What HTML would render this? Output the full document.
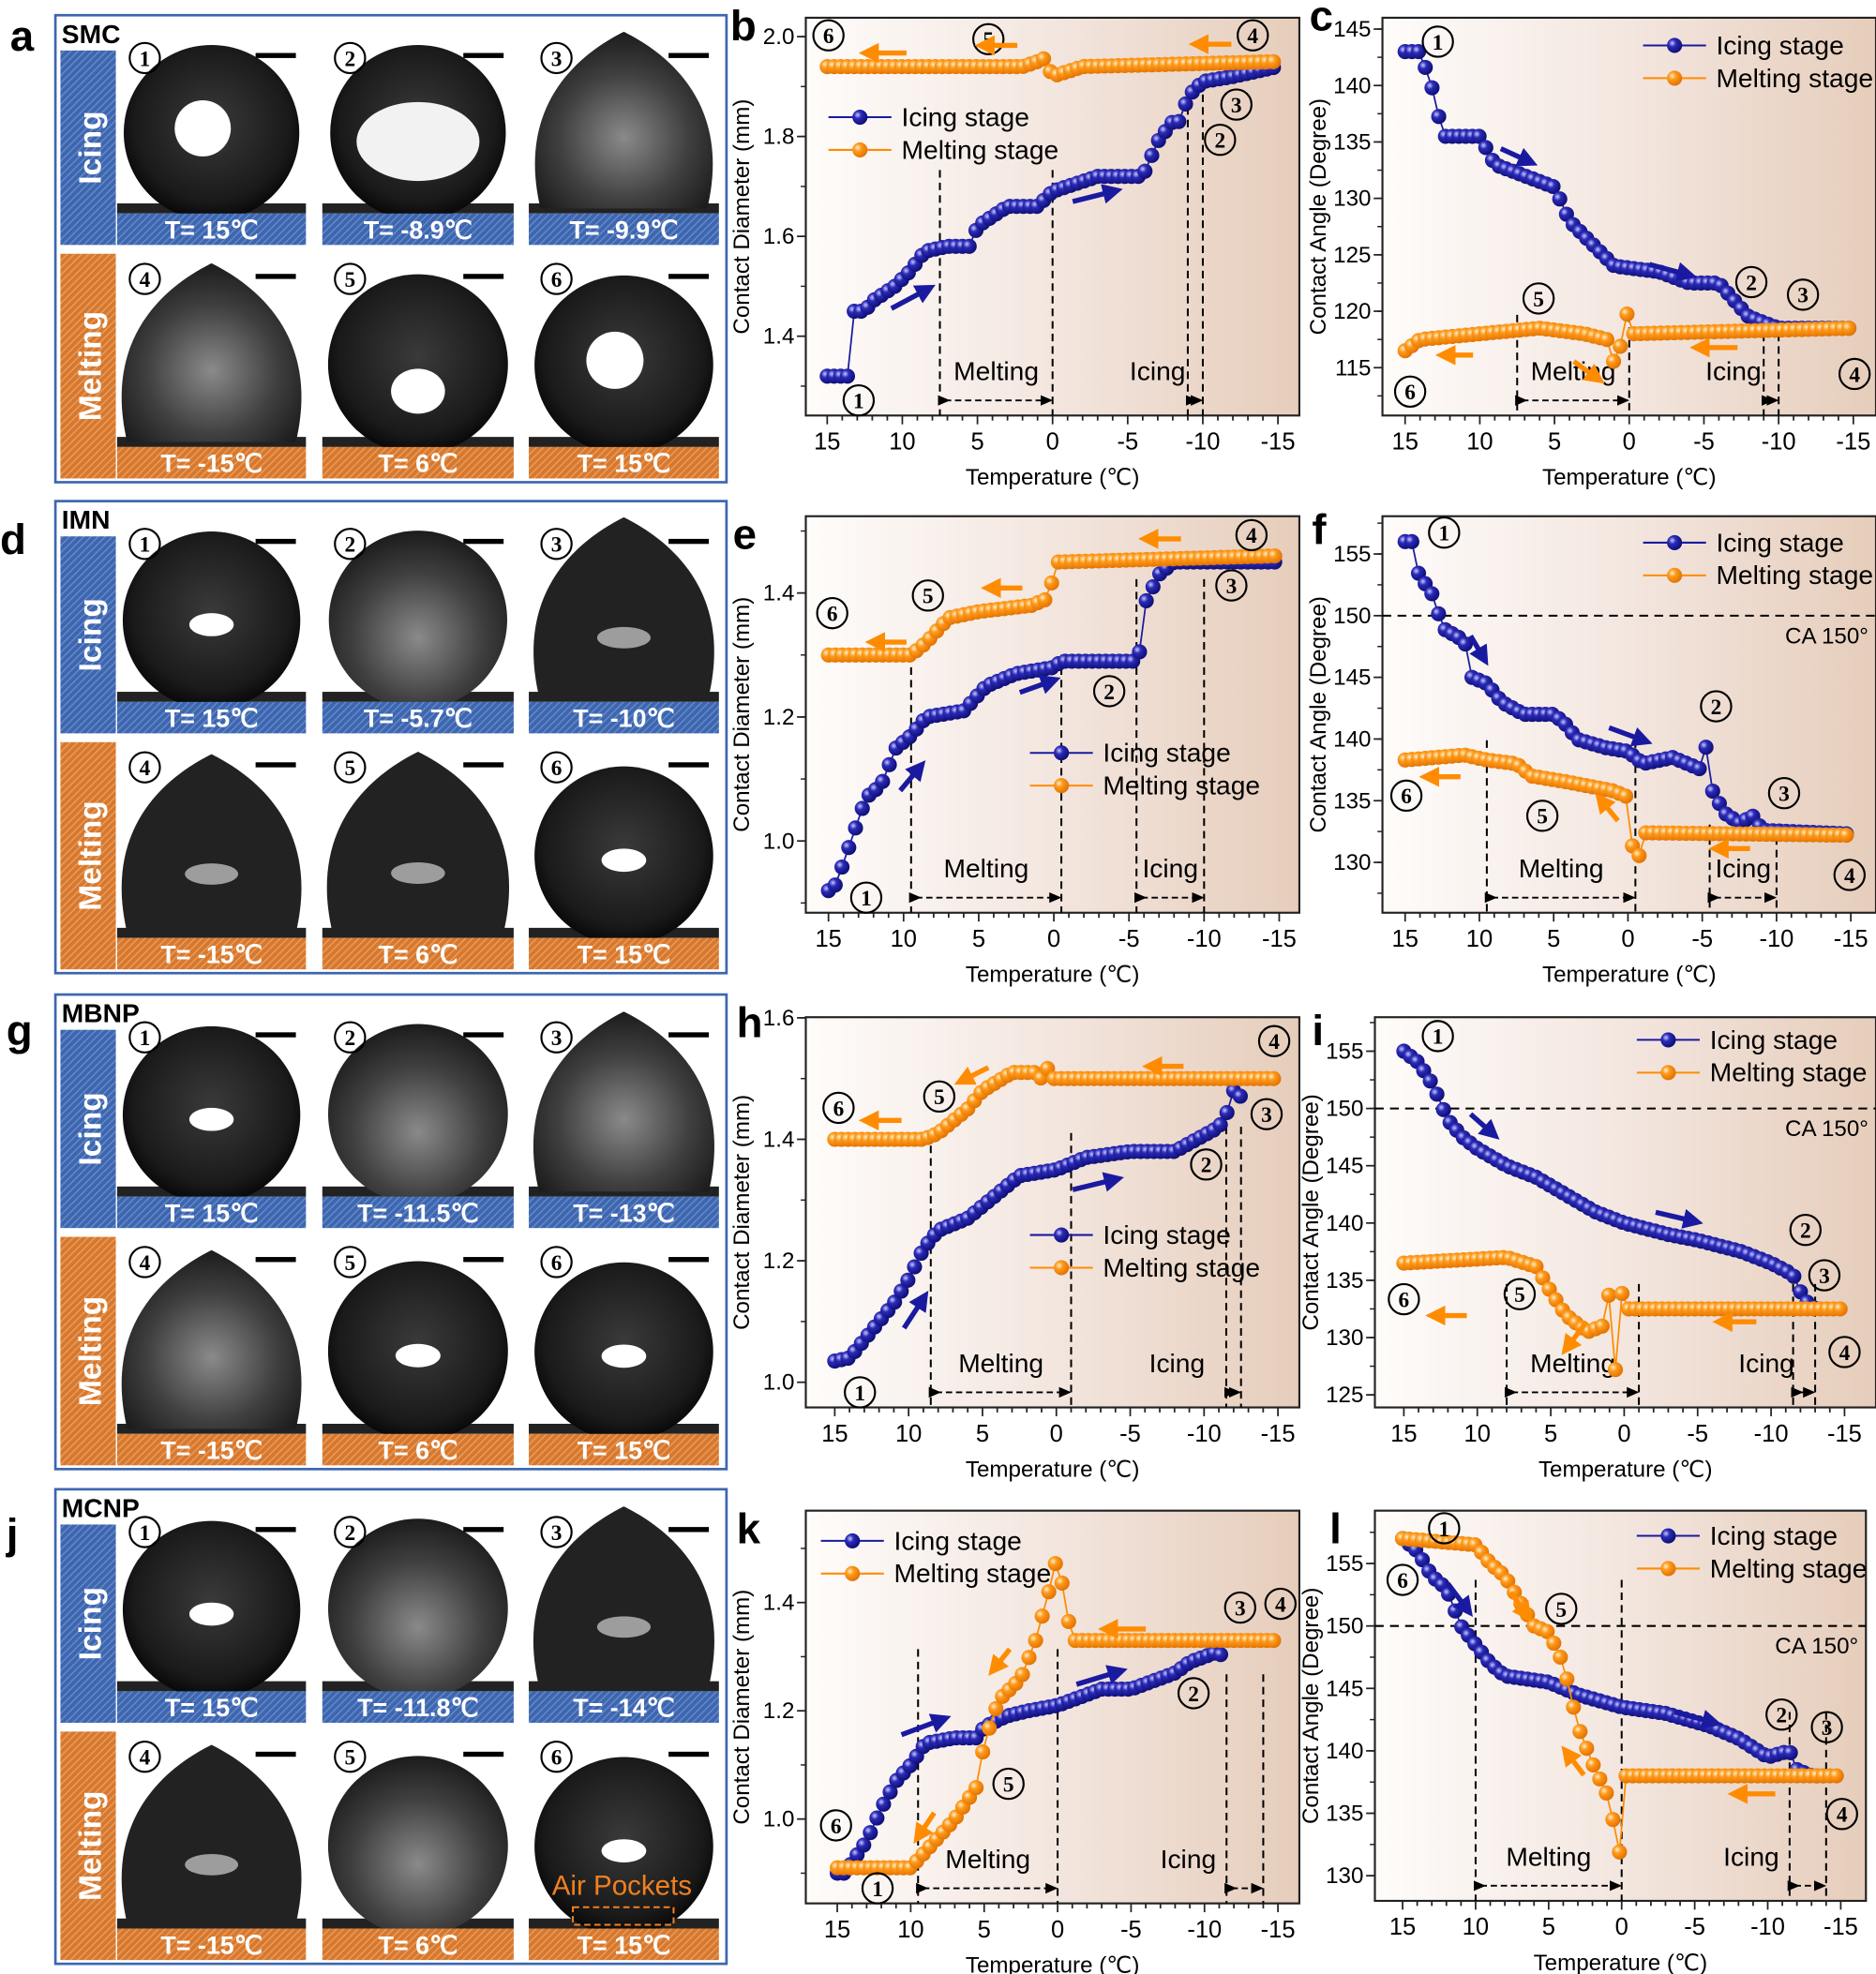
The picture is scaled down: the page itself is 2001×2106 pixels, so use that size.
<!DOCTYPE html>
<html><head><meta charset="utf-8">
<style>
html,body{margin:0;padding:0;background:#fff;}
svg{display:block;font-family:"Liberation Sans",Arial,sans-serif;}
</style></head>
<body>
<svg id="s" width="2001" height="2106" viewBox="0 0 1490 1568" xmlns="http://www.w3.org/2000/svg">
<defs>
<radialGradient id="gb" cx="0.35" cy="0.35" r="0.7"><stop offset="0" stop-color="#c8c8ff"/><stop offset="0.35" stop-color="#2a2ab8"/><stop offset="1" stop-color="#0c0c70"/></radialGradient>
<radialGradient id="go" cx="0.35" cy="0.35" r="0.7"><stop offset="0" stop-color="#fff0d0"/><stop offset="0.35" stop-color="#ff9a1a"/><stop offset="1" stop-color="#e07000"/></radialGradient>
<linearGradient id="bg" x1="0" x2="1" y1="0" y2="0"><stop offset="0" stop-color="#fefcfa"/><stop offset="0.5" stop-color="#f3e6df"/><stop offset="1" stop-color="#e6cdbb"/></linearGradient>
<pattern id="hb" width="4" height="4" patternUnits="userSpaceOnUse" patternTransform="rotate(45)"><rect width="4" height="4" fill="#3d66b0"/><rect width="1" height="4" fill="#6a8cc8"/></pattern>
<pattern id="ho" width="4" height="4" patternUnits="userSpaceOnUse" patternTransform="rotate(45)"><rect width="4" height="4" fill="#d7782e"/><rect width="1" height="4" fill="#e9a060"/></pattern>
<radialGradient id="drop" cx="0.5" cy="0.45" r="0.55"><stop offset="0" stop-color="#3a3a3a"/><stop offset="0.8" stop-color="#1a1a1a"/><stop offset="1" stop-color="#080808"/></radialGradient>
<radialGradient id="dropg" cx="0.5" cy="0.6" r="0.6"><stop offset="0" stop-color="#8a8a8a"/><stop offset="0.6" stop-color="#404040"/><stop offset="1" stop-color="#1c1c1c"/></radialGradient>
<marker id="ab" markerWidth="4" markerHeight="4" refX="2" refY="2" orient="auto"><path d="M0,0L4,2L0,4z" fill="#1a1aa0"/></marker>
<marker id="ao" markerWidth="4" markerHeight="4" refX="2" refY="2" orient="auto"><path d="M0,0L4,2L0,4z" fill="#ff8c00"/></marker>
<marker id="ak" markerWidth="8" markerHeight="8" refX="4" refY="4" orient="auto"><path d="M0,1L7,4L0,7z" fill="#000"/></marker>
</defs>
<g id="root"></g>
</svg>
<script>
var R=document.getElementById('root'),NS='http://www.w3.org/2000/svg';
function el(t,a,txt,p){var e=document.createElementNS(NS,t);for(var k in a)e.setAttribute(k,a[k]);if(txt!=null)e.textContent=txt;(p||R).appendChild(e);return e;}
function cnum(n,x,y,s){s=s||12;el('circle',{cx:x,cy:y,r:s,fill:'none',stroke:'#000','stroke-width':1.6});el('text',{x:x,y:y+s*0.52,'font-size':s*1.45,'font-weight':'bold','text-anchor':'middle','font-family':'Liberation Serif,serif'},String(n));}

function photoBox(y0,y1,name,caps,kind){
  el('rect',{x:44,y:y0,width:533,height:y1-y0,fill:'#fff',stroke:'#3d66b0','stroke-width':2});
  el('text',{x:49,y:y0+22,'font-size':21,'font-weight':'bold'},name);
  var mid=(y0+y1)/2;
  var secs=[[y0+28,mid-3,'hb','Icing'],[mid+4,y1-3,'ho','Melting']];
  var cols=[[93,243],[256,408],[420,571]];
  secs.forEach(function(s,si){
    el('rect',{x:48,y:s[0],width:44,height:s[1]-s[0],fill:'url(#'+s[2]+')'});
    var cy=(s[0]+s[1])/2;
    el('text',{x:0,y:0,'font-size':25,'font-weight':'bold',fill:'#fff','text-anchor':'middle',transform:'translate(80,'+cy+') rotate(-90)'},s[3]);
    cols.forEach(function(c,ci){
      var n=si*3+ci+1, x0=c[0],x1=c[1],w=x1-x0;
      var capT=s[1]-25;
      var cx=(x0+x1)/2, r=w*0.47;
      var top=s[0]+(si?14:4);
      var rr=Math.min(r,(capT-top)/1.8);
      var ccy=capT-rr*0.92;
      el('rect',{x:x0,y:capT-8,width:w,height:8,fill:'#222'});
      var k=kind[n-1];
      var fill=(k=='g')?'url(#dropg)':'url(#drop)';
      if(k=='p'||k=='pg'){
        el('path',{d:'M'+(cx-rr*0.95)+','+(capT-4)+' C'+(cx-rr*1.25)+','+(ccy-rr*0.4)+' '+(cx-rr*0.4)+','+(ccy-rr*0.95)+' '+cx+','+(ccy-rr*1.15)+' C'+(cx+rr*0.4)+','+(ccy-rr*0.95)+' '+(cx+rr*1.25)+','+(ccy-rr*0.4)+' '+(cx+rr*0.95)+','+(capT-4)+'z',fill:k=='pg'?'url(#dropg)':'#222'});
        if(k=='p')el('ellipse',{cx:cx,cy:ccy+rr*0.2,rx:rr*0.3,ry:rr*0.12,fill:'#bdbdbd',opacity:0.8});
      } else {
        el('circle',{cx:cx,cy:ccy,r:rr,fill:fill});
        if(k=='w')el('ellipse',{cx:cx-rr*0.1,cy:ccy-rr*0.05,rx:rr*0.32,ry:rr*0.32,fill:'#fff'});
        if(k=='s')el('ellipse',{cx:cx,cy:ccy+rr*0.05,rx:rr*0.25,ry:rr*0.13,fill:'#fff'});
        if(k=='b')el('ellipse',{cx:cx,cy:ccy+rr*0.1,rx:rr*0.7,ry:rr*0.45,fill:'#f2f2f2'});
        if(k=='h')el('ellipse',{cx:cx,cy:ccy+rr*0.3,rx:rr*0.3,ry:rr*0.25,fill:'#fff'});
      }
      el('rect',{x:x0,y:capT,width:w,height:25,fill:'url(#'+s[2]+')'});
      el('text',{x:cx,y:capT+20,'font-size':20,'font-weight':'bold',fill:'#fff','text-anchor':'middle'},caps[n-1]);
      cnum(n,x0+22,s[0]+(si?20:6),12);
      el('rect',{x:x1-40,y:s[0]+(si?16:2),width:32,height:4,fill:'#000'});
    });
  });
}
photoBox(12,383,'SMC',['T= 15℃','T= -8.9℃','T= -9.9℃','T= -15℃','T= 6℃','T= 15℃'],['w','b','pg','pg','h','w']);
photoBox(398,773,'IMN',['T= 15℃','T= -5.7℃','T= -10℃','T= -15℃','T= 6℃','T= 15℃'],['s','g','p','p','p','s']);
photoBox(790,1167,'MBNP',['T= 15℃','T= -11.5℃','T= -13℃','T= -15℃','T= 6℃','T= 15℃'],['s','g','pg','pg','s','s']);
photoBox(1183,1560,'MCNP',['T= 15℃','T= -11.8℃','T= -14℃','T= -15℃','T= 6℃','T= 15℃'],['s','g','p','p','g','s']);
el('text',{x:494,y:1505,'font-size':22,fill:'#f08020','text-anchor':'middle'},'Air Pockets');
el('rect',{x:455,y:1515,width:80,height:14,fill:'none',stroke:'#f08020','stroke-width':1.5,'stroke-dasharray':'5,3'});

[['a',8,40],['b',580,32],['c',1040,24],['d',0,440],['e',582,436],['f',1042,432],['g',5,830],['h',585,824],['i',1042,830],['j',5,1230],['k',585,1226],['l',1056,1226]].forEach(function(l){el('text',{x:l[1],y:l[2],'font-size':34,'font-weight':'bold'},l[0]);});

function interp(k,T){for(var i=0;i<k.length-1;i++){var a=k[i],b=k[i+1];if((T<=a[0]&&T>=b[0])){var t=(a[0]-T)/(a[0]-b[0]||1);return a[1]+(b[1]-a[1])*t;}}return k[k.length-1][1];}
function chart(o){
  var L=o.x0,Rr=o.x0+o.w,T=o.y0,B=o.y1;
  var xs=function(t){return o.t15+(15-t)*(o.tm15-o.t15)/30;};
  var ys=function(v){return o.ya+(v-o.va)*(o.yb-o.ya)/(o.vb-o.va);};
  el('rect',{x:L,y:T,width:o.w,height:B-T,fill:'url(#bg)',stroke:'#222','stroke-width':1.6});
  for(var t=15;t>=-15;t-=1){var X=xs(t);var maj=(t%5==0);el('line',{x1:X,x2:X,y1:B,y2:B+(maj?7:4),stroke:'#222','stroke-width':1.3});if(maj)el('text',{x:X,y:B+27,'font-size':19,'text-anchor':'middle'},String(t));}
  o.yt.forEach(function(v){var Y=ys(v);el('line',{x1:L,x2:L-7,y1:Y,y2:Y,stroke:'#222','stroke-width':1.3});el('text',{x:L-9,y:Y+6,'font-size':18,'text-anchor':'end'},o.fmt?v.toFixed(1):String(v));});
  var step=(o.yt[1]-o.yt[0])/2;
  for(var v=o.yt[0]-step;v<o.yt[o.yt.length-1]+step*1.5;v+=step){var Y=ys(v);if(Y>T&&Y<B)el('line',{x1:L,x2:L-4,y1:Y,y2:Y,stroke:'#222','stroke-width':1.1});}
  el('text',{x:(L+Rr)/2,y:B+55,'font-size':18,'text-anchor':'middle'},'Temperature (℃)');
  el('text',{x:0,y:0,'font-size':18,'text-anchor':'middle',transform:'translate('+(L-45)+','+((T+B)/2)+') rotate(-90)'},o.yl);
  if(o.ca){var Y=ys(150);el('line',{x1:L,x2:Rr,y1:Y,y2:Y,stroke:'#000','stroke-width':1.5,'stroke-dasharray':'7,5'});el('text',{x:Rr-6,y:Y+22,'font-size':18,'text-anchor':'end'},'CA 150°');}
  var ly=B-12;
  [[o.m,'Melting'],[o.ic,'Icing']].forEach(function(p){
    p[0].slice(0,2).forEach(function(t){el('line',{x1:xs(t),x2:xs(t),y1:p[0][2],y2:B,stroke:'#000','stroke-width':1.5,'stroke-dasharray':'6,4'});});
    el('line',{x1:xs(p[0][0])+4,x2:xs(p[0][1])-4,y1:ly,y2:ly,stroke:'#000','stroke-width':1.4,'stroke-dasharray':'5,3','marker-start':'url(#ak)','marker-end':'url(#ak)'});
    el('text',{x:(xs(p[0][0])+xs(p[0][1]))/2+(p[1]=='Icing'?(o.icdx||0):0),y:ly-16,'font-size':21,'text-anchor':'middle'},p[1]);
  });
  function series(k,col,g){
    var pts=[];for(var t=15;t>=k[k.length-1][0]-0.01;t-=0.45){pts.push([xs(t),ys(interp(k,t))]);}
    el('polyline',{points:pts.map(function(p){return p[0].toFixed(1)+','+p[1].toFixed(1);}).join(' '),fill:'none',stroke:col,'stroke-width':1.3});
    pts.forEach(function(p){el('circle',{cx:p[0],cy:p[1],r:6,fill:'url(#'+g+')'});});
  }
  series(o.bl,'#1a1aa0','gb');series(o.or,'#ff8c00','go');
  var lx=o.lg[0],lyy=o.lg[1];
  [['#1a1aa0','gb','Icing stage'],['#ff8c00','go','Melting stage']].forEach(function(s,i){var y=lyy+i*26;el('line',{x1:lx,x2:lx+50,y1:y,y2:y,stroke:s[0],'stroke-width':1.5});el('circle',{cx:lx+25,cy:y,r:6,fill:'url(#'+s[1]+')'});el('text',{x:lx+58,y:y+7,'font-size':21},s[2]);});
  o.cn.forEach(function(c){cnum(c[0],c[1],c[2],12);});
  (o.ar||[]).forEach(function(a){el('line',{x1:a[1],y1:a[2],x2:a[3],y2:a[4],stroke:a[0]=='b'?'#1a1aa0':'#ff8c00','stroke-width':4,'marker-end':'url(#a'+a[0]+')'});});
}
var CD='Contact Diameter (mm)',CA='Contact Angle (Degree)';
chart({x0:640,w:392,y0:14,y1:330,t15:657,tm15:1015,ya:267,va:1.4,yb:29,vb:2.0,yt:[1.4,1.6,1.8,2.0],fmt:1,yl:CD,
 bl:[[15,1.32],[14,1.32],[13.6,1.32],[13.4,1.45],[12.5,1.45],[12,1.47],[10.5,1.5],[9.5,1.53],[8.5,1.57],[7,1.58],[5.5,1.58],[5,1.62],[3,1.66],[1,1.66],[0,1.69],[-2,1.71],[-3,1.72],[-6,1.72],[-7,1.79],[-8,1.83],[-8.5,1.83],[-9,1.88],[-10,1.91],[-12,1.92],[-15,1.94]],
 or:[[15,1.94],[2,1.94],[1,1.95],[0.3,1.96],[0.1,1.92],[-1,1.93],[-2,1.94],[-15,1.95]],
 m:[7.5,0,135],ic:[-9,-10,75],lg:[658,93],icdx:-30,
 cn:[[1,682,318],[2,969,111],[3,982,83],[4,995,28],[5,785,31],[6,658,28]],
 ar:[['o',720,42,690,42],['o',808,36,782,36],['o',978,35,952,35],['b',708,245,736,230],['b',852,160,884,152]]});
chart({x0:1098,w:392,y0:14,y1:330,t15:1116,tm15:1472,ya:292,va:115,yb:23,vb:145,yt:[115,120,125,130,135,140,145],yl:CA,
 bl:[[15,143],[14,143],[13,139],[12.5,135.5],[10,135.5],[9,133],[7,132],[5,131],[4,128],[2.5,126],[1,124],[-2,123.5],[-4,122.5],[-6,122.5],[-7,121],[-8,119.5],[-10,118.5],[-15,118.5]],
 or:[[15,116.5],[14,117.5],[10,118],[6,118.5],[3,118],[1.5,117.5],[0.8,114.5],[0.3,120.5],[-0.2,118],[-15,118.5]],
 m:[7.5,0,250],ic:[-9,-10,255],lg:[1305,36],icdx:-30,
 cn:[[1,1142,33],[2,1391,224],[3,1432,234],[4,1473,297],[5,1222,237],[6,1120,311]],
 ar:[['b',1192,118,1214,128],['b',1310,210,1340,218],['o',1170,282,1148,282],['o',1380,276,1350,276],['o',1250,287,1268,300]]});
chart({x0:640,w:392,y0:410,y1:725,t15:658,tm15:1016,ya:668,va:1.0,yb:471,vb:1.4,yt:[1.0,1.2,1.4],fmt:1,yl:CD,
 bl:[[15,0.92],[14.5,0.93],[13.5,1.0],[12.5,1.07],[11.5,1.09],[10.5,1.15],[9.5,1.17],[8.5,1.2],[6,1.21],[4.5,1.25],[2.5,1.27],[0,1.28],[-0.5,1.29],[-5.5,1.29],[-5.6,1.28],[-6,1.38],[-7,1.43],[-8,1.45],[-15,1.45]],
 or:[[15,1.3],[9.5,1.3],[8.5,1.32],[7,1.36],[5,1.37],[1.5,1.38],[0.5,1.39],[-0.3,1.45],[-15,1.46]],
 m:[9.5,-0.5,520],ic:[-5.5,-10,460],lg:[818,598],
 cn:[[1,688,713],[2,881,549],[3,978,465],[4,994,425],[5,737,473],[6,661,487]],
 ar:[['o',720,510,695,510],['o',812,467,787,467],['o',938,428,912,428],['b',715,628,730,610],['b',810,550,835,541]]});
chart({x0:1098,w:392,y0:410,y1:725,t15:1116,tm15:1470,ya:685,va:130,yb:440,vb:155,yt:[130,135,140,145,150,155],yl:CA,ca:1,
 bl:[[15,156],[14.5,156],[14,152.8],[13.5,152.5],[13,151.3],[12.5,149],[11.5,148.3],[11,148],[10.5,145],[9.5,144.5],[8.5,143],[7,142],[5,142],[4,141],[3.5,140],[1.5,139.3],[0,139],[-1,138],[-3,138.5],[-5,137.5],[-5.3,139.7],[-5.6,136],[-6.5,134],[-7.5,133.2],[-8.5,133.8],[-9,132.6],[-15,132.3]],
 or:[[15,138.3],[11,138.7],[9.5,138.3],[7.5,138],[6.5,137],[4,136.5],[1,135.8],[0,135.3],[-0.5,128.7],[-1,132.4],[-15,132.2]],
 m:[9.5,-0.5,588],ic:[-5.5,-10,655],lg:[1305,431],
 cn:[[1,1147,423],[2,1363,561],[3,1417,630],[4,1469,695],[5,1225,648],[6,1117,632]],
 ar:[['b',1168,505,1178,522],['b',1278,578,1305,588],['o',1160,617,1135,617],['o',1285,652,1272,636],['o',1390,674,1365,674]]});
chart({x0:640,w:392,y0:808,y1:1118,t15:663,tm15:1015,ya:1098,va:1.0,yb:905,vb:1.4,yt:[1.0,1.2,1.4,1.6],fmt:1,yl:CD,
 bl:[[15,1.035],[14,1.04],[13,1.07],[11,1.13],[10,1.17],[9,1.22],[8,1.25],[6,1.27],[4,1.31],[2.5,1.34],[0,1.35],[-2,1.37],[-5,1.38],[-8,1.38],[-9.5,1.4],[-11,1.42],[-11.5,1.44],[-12,1.48],[-12.5,1.47]],
 or:[[15,1.4],[9,1.4],[8,1.41],[6,1.45],[5,1.48],[3,1.51],[1.5,1.51],[1,1.5],[0.8,1.55],[0.5,1.5],[-15,1.5]],
 m:[8.5,-1,900],ic:[-11.5,-12.5,895],lg:[818,981],icdx:-45,
 cn:[[1,683,1106],[2,958,925],[3,1006,885],[4,1012,827],[5,746,871],[6,666,880]],
 ar:[['o',716,890,690,890],['o',785,848,765,858],['o',940,847,915,847],['b',718,1055,733,1032],['b',852,945,885,937]]});
chart({x0:1092,w:398,y0:808,y1:1118,t15:1115,tm15:1465,ya:1108,va:125,yb:835,vb:155,yt:[125,130,135,140,145,150,155],yl:CA,ca:1,
 bl:[[15,155],[14,154],[13,152],[12,149],[11,147.5],[10,146.5],[8,145],[6,144],[4,142.5],[2,141],[0,140],[-3,139],[-5,138.5],[-8,137.5],[-10,136.5],[-11.5,135.5],[-12,134],[-12.5,133],[-13,132.5]],
 or:[[15,136.5],[8,137],[6,136.2],[5,134],[4,132],[2.5,130.5],[1.5,131],[1,134],[0.5,125.5],[0.2,134],[-0.3,132.5],[-15,132.5]],
 m:[8,-1,1020],ic:[-11.5,-13,1020],lg:[1300,826],icdx:-30,
 cn:[[1,1142,823],[2,1434,977],[3,1449,1013],[4,1465,1074],[5,1207,1028],[6,1115,1032]],
 ar:[['b',1168,885,1185,900],['b',1315,963,1345,970],['o',1165,1045,1140,1045],['o',1395,1050,1368,1050],['o',1260,1050,1245,1070]]});
chart({x0:640,w:392,y0:1200,y1:1512,t15:665,tm15:1015,ya:1445,va:1.0,yb:1273,vb:1.4,yt:[1.0,1.2,1.4],fmt:1,yl:CD,
 bl:[[15,0.9],[14.5,0.9],[14,0.92],[13,0.96],[12,1.02],[11,1.07],[10,1.1],[9,1.14],[7,1.15],[5.5,1.15],[5,1.17],[3.5,1.19],[2,1.2],[0,1.21],[-1,1.22],[-3,1.24],[-5,1.24],[-8,1.27],[-9,1.29],[-11,1.31],[-11.5,1.28]],
 or:[[15,0.91],[10,0.91],[9,0.94],[7,1.0],[5.5,1.06],[5,1.14],[4,1.22],[2.5,1.26],[1.5,1.33],[0.5,1.43],[0,1.49],[-0.5,1.4],[-1,1.33],[-15,1.33]],
 m:[9.5,0,1310],ic:[-11.5,-14,1330],lg:[652,1224],icdx:-45,
 cn:[[1,697,1500],[2,948,1345],[3,985,1277],[4,1017,1274],[5,801,1417],[6,664,1450]],
 ar:[['b',716,1378,748,1366],['b',855,1338,888,1328],['o',742,1440,730,1458],['o',802,1310,790,1325],['o',910,1294,880,1294]]});
chart({x0:1092,w:390,y0:1200,y1:1510,t15:1114,tm15:1462,ya:1490,va:130,yb:1242,vb:155,yt:[130,135,140,145,150,155],yl:CA,ca:1,
 bl:[[15,157],[14,156],[13,154],[12,153],[11,150],[10,148.5],[9,147],[8,146],[5,145.5],[3,144.5],[0,143.5],[-3,143],[-6,142],[-8,141],[-10,139.5],[-11.5,140],[-12,138.5],[-13,138],[-14,138]],
 or:[[15,157],[10,156.5],[9,155],[8,154],[7,152],[6,150],[5,149.5],[4,147],[3,142],[2,139],[1,136.5],[0.5,134],[0,131],[-0.3,138],[-15,138]],
 m:[10,0,1255],ic:[-11.5,-14,1360],lg:[1300,1220],icdx:-45,
 cn:[[1,1147,1214],[2,1415,1362],[3,1451,1372],[4,1463,1441],[5,1240,1278],[6,1114,1255]],
 ar:[['b',1150,1258,1165,1278],['b',1330,1360,1360,1368],['o',1200,1265,1212,1282],['o',1258,1410,1245,1393],['o',1410,1425,1380,1425]]});
</script>
</body></html>
